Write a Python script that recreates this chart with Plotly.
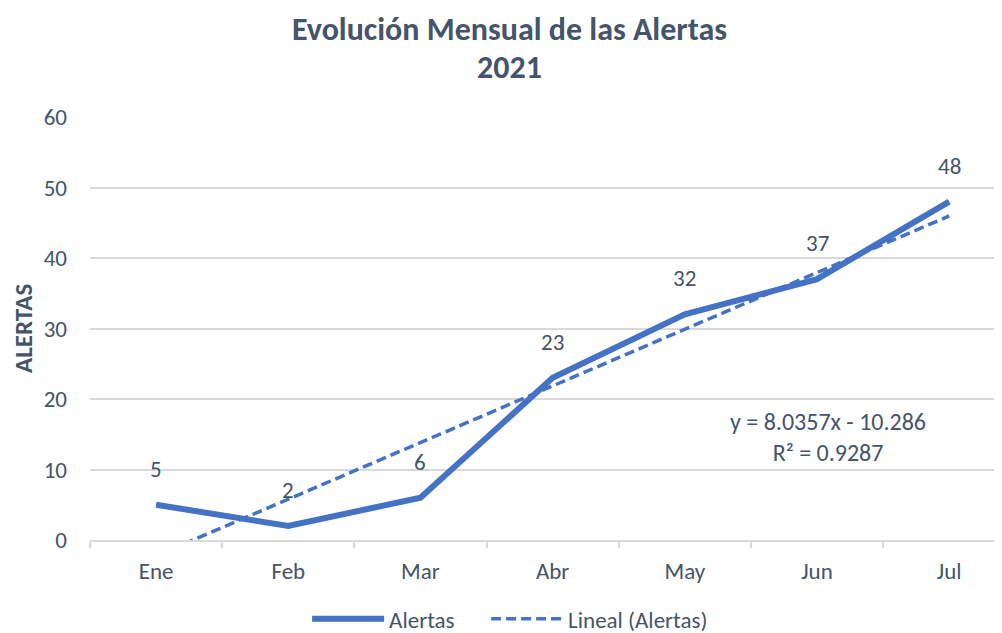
import numpy as np
import plotly.graph_objects as go

# datos
meses = ["Ene", "Feb", "Mar", "Abr", "May", "Jun", "Jul"]
alertas = [5, 2, 6, 23, 32, 37, 48]

azul = "#4472C4"
texto = "#44546A"
grid = "#D9D9D9"
fuente = "Carlito, Lato, Calibri, sans-serif"

# tendencia lineal (igual que Excel, x = 1..n)
xs = np.arange(1, len(alertas) + 1)
m, b = np.polyfit(xs, alertas, 1)
tendencia = m * xs + b
r2 = np.corrcoef(xs, alertas)[0, 1] ** 2

fig = go.Figure()
fig.add_trace(go.Scatter(
    x=meses, y=alertas, mode="lines", name="Alertas", legendwidth=92,
    line=dict(color=azul, width=6)
))
fig.add_trace(go.Scatter(
    x=meses, y=tendencia, mode="lines", name="Lineal (Alertas)", legendwidth=160,
    line=dict(color=azul, width=3.5, dash="10px,5px")
))

# etiquetas de datos
for mes, v in zip(meses, alertas):
    fig.add_annotation(x=mes, y=v, text=str(v), showarrow=False, yshift=36,
                       font=dict(size=23, color=texto, family=fuente))

fig.add_annotation(
    x=5.08, y=14.6, xref="x", yref="y", showarrow=False,
    text=f"y = {m:.4f}x - {abs(b):.3f}<br>R² = {r2:.4f}",
    font=dict(size=24, color=texto, family=fuente), align="center"
)

# titulo (dos lineas, interlineado como en Excel)
fig.add_annotation(x=0.456, y=1.2057, xref="paper", yref="paper", showarrow=False,
                   text="<b>Evolución Mensual de las Alertas</b>",
                   xanchor="center", yanchor="middle",
                   font=dict(size=32, color=texto, family=fuente))
fig.add_annotation(x=0.456, y=1.118, xref="paper", yref="paper", showarrow=False,
                   text="<b>2021</b>", xanchor="center", yanchor="middle",
                   font=dict(size=32, color=texto, family=fuente))

# titulo del eje y
fig.add_annotation(
    x=-0.073, y=0.501, xref="paper", yref="paper", showarrow=False,
    text="<b>ALERTAS</b>", textangle=-90, xanchor="center", yanchor="middle",
    font=dict(size=25, color=texto, family=fuente)
)

fig.update_layout(
    width=1002, height=633,
    paper_bgcolor="white", plot_bgcolor="white",
    font=dict(family=fuente, color=texto, size=23),
    margin=dict(l=82, r=0, t=109, b=101),
    showlegend=True,
    legend=dict(orientation="h", x=0.236, xanchor="left", y=-0.237, yanchor="bottom",
                font=dict(size=23, color=texto), itemwidth=72),
    xaxis=dict(range=[-0.5, 6.46], showgrid=False, showline=True, linecolor=grid,
               linewidth=1.5, ticks="outside", tickson="boundaries", ticklen=6,
               tickcolor=grid, tickwidth=1.5, ticklabelstandoff=10,
               tickfont=dict(size=23, color=texto)),
    yaxis=dict(range=[0, 60], dtick=10, showgrid=True, gridcolor=grid, gridwidth=1.5,
               zeroline=False, showline=False, ticks="", ticklabelstandoff=22,
               tickfont=dict(size=23, color=texto)),
)

fig.write_html("out.html")
